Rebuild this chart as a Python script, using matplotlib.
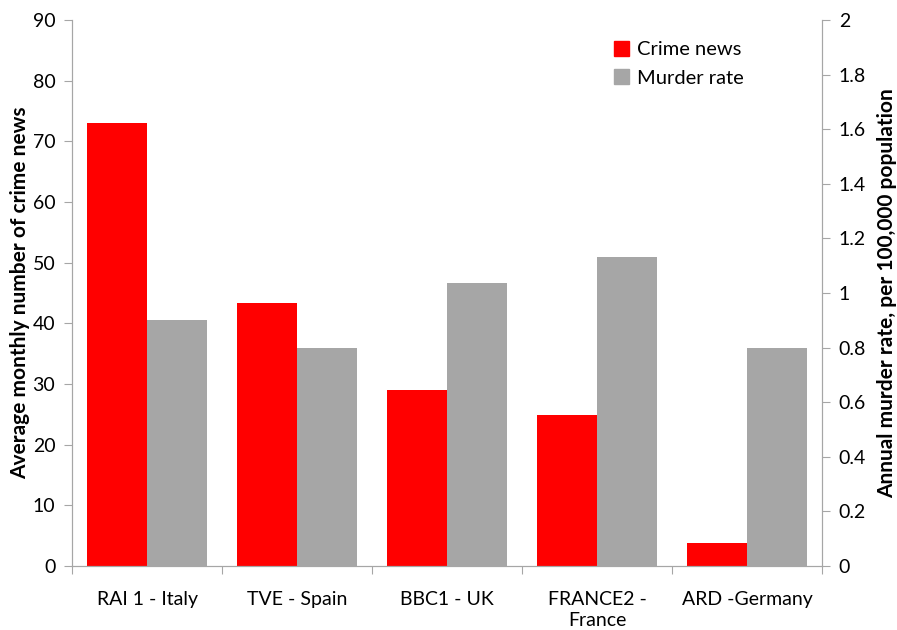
import matplotlib
matplotlib.use('Agg')
import matplotlib.pyplot as plt
import numpy as np
from matplotlib.patches import Patch

plt.rcParams['font.family'] = ['Lato', 'DejaVu Sans']

categories = ['RAI 1 - Italy', 'TVE - Spain', 'BBC1 - UK', 'FRANCE2 -\nFrance', 'ARD -Germany']
crime_news = [73, 43.4, 29, 24.9, 3.8]
murder_rate = [0.9, 0.8, 1.035, 1.13, 0.8]

red = '#ff0000'
grey = '#a6a6a6'
axis_grey = '#a6a6a6'

fig = plt.figure(figsize=(8.97, 6.30), dpi=100)
ax = fig.add_axes([0.0803, 0.1016, 0.8361, 0.8667])
ax2 = ax.twinx()

x = np.arange(len(categories))
ax.bar(x - 0.2, crime_news, width=0.4, color=red, zorder=2)
ax2.bar(x + 0.2, murder_rate, width=0.4, color=grey, zorder=2)

ax.set_xlim(-0.5, len(categories) - 0.5)
ax.set_ylim(0, 90)
ax.set_yticks(np.arange(0, 91, 10))
ax2.set_ylim(0, 2)
ax2.set_yticks(np.arange(0, 2.01, 0.2))
ax2.set_yticklabels(['0', '0.2', '0.4', '0.6', '0.8', '1', '1.2', '1.4', '1.6', '1.8', '2'])

# category boundaries get the ticks, labels sit in between
ax.set_xticks(np.arange(-0.5, len(categories), 1.0))
ax.set_xticklabels([])
ax.set_xticks(x, minor=True)
ax.set_xticklabels(categories, minor=True, fontsize=14, linespacing=1.3)
ax.tick_params(axis='x', which='minor', length=0, pad=18)
ax.tick_params(axis='x', which='major', length=6, color=axis_grey)

for a in (ax, ax2):
    a.spines['top'].set_visible(False)
    for s in ('left', 'right', 'bottom'):
        a.spines[s].set_color(axis_grey)
    a.tick_params(axis='y', length=6, color=axis_grey, labelsize=14, pad=6)

ax.set_ylabel('Average monthly number of crime news', fontsize=15, fontweight='bold', labelpad=2)
ax2.set_ylabel('Annual murder rate, per 100,000 population', fontsize=15, fontweight='bold', labelpad=8)

handles = [Patch(color=red, label='Crime news'), Patch(color=grey, label='Murder rate')]
ax2.legend(handles=handles, loc='upper right', bbox_to_anchor=(0.92, 0.995), frameon=False,
           fontsize=14.5, handlelength=0.75, handleheight=0.75, handletextpad=0.4, labelspacing=0.55)

fig.savefig('out.png', dpi=100)
